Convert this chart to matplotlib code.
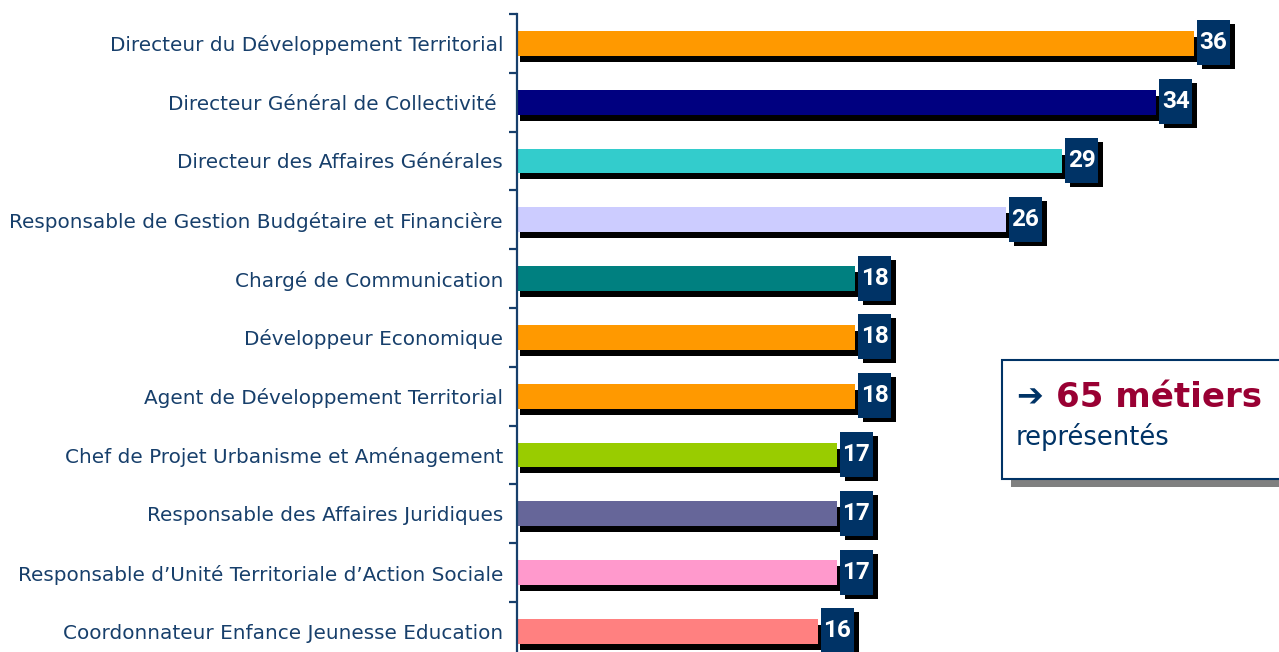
import matplotlib
matplotlib.use("Agg")
import matplotlib.pyplot as plt
import numpy as np
from matplotlib.patches import Rectangle
from matplotlib.transforms import Affine2D, ScaledTranslation, offset_copy

categories = [
    "Directeur du Développement Territorial",
    "Directeur Général de Collectivité ",
    "Directeur des Affaires Générales",
    "Responsable de Gestion Budgétaire et Financière",
    "Chargé de Communication",
    "Développeur Economique",
    "Agent de Développement Territorial",
    "Chef de Projet Urbanisme et Aménagement",
    "Responsable des Affaires Juridiques",
    "Responsable d\u2019Unité Territoriale d\u2019Action Sociale",
    "Coordonnateur Enfance Jeunesse Education",
]
values = [36, 34, 29, 26, 18, 18, 18, 17, 17, 17, 16]
colors = ["#FF9900", "#000080", "#33CCCC", "#CCCCFF", "#008080", "#FF9900",
          "#FF9900", "#99CC00", "#666699", "#FF99CC", "#FF8080"]

W, H = 1279, 652
LABEL_COLOR = "#173F6B"
BOX_COLOR = "#003366"

fig = plt.figure(figsize=(W / 100, H / 100), dpi=100)
step = 58.8
ax_h = step * len(categories)
ax = fig.add_axes([517 / W, (H - 14 - ax_h) / H, 752 / W, ax_h / H])
y = np.arange(len(categories))

shadow_tr = offset_copy(ax.transData, fig=fig, x=3, y=-6, units='dots')
ax.barh(y, values, height=0.425, color='black', transform=shadow_tr, zorder=1)
ax.barh(y, values, height=0.425, color=colors, zorder=2)

for yi, v in zip(y, values):
    tr = Affine2D() + ScaledTranslation(v, yi, ax.transData)
    ax.add_patch(Rectangle((3 + 5, -22 - 4), 33, 45, facecolor='black',
                           edgecolor='none', transform=tr, zorder=3))
    ax.add_patch(Rectangle((3, -22), 33, 45, facecolor=BOX_COLOR,
                           edgecolor='none', transform=tr, zorder=4))
    ax.text(v, yi, str(v), transform=offset_copy(ax.transData, fig=fig, x=19.5, y=0.5, units='dots'),
            ha='center', va='center', color='white', fontsize=17.5,
            fontweight='bold', family='Roboto', zorder=5)

ax.set_xlim(0, 40)
ax.set_ylim(len(categories) - 0.5, -0.5)
ax.set_yticks(y)
ax.set_yticklabels(categories, fontsize=14.4, color=LABEL_COLOR, family='DejaVu Sans')
for lbl in ax.get_yticklabels():
    lbl.set_transform(lbl.get_transform() + Affine2D().translate(0, 3))
ax.set_yticks(np.arange(-0.5, len(categories), 1), minor=True)
ax.tick_params(axis='y', which='major', length=0, pad=10)
ax.tick_params(axis='y', which='minor', length=6, width=1.6, color=LABEL_COLOR)
ax.set_xticks([])
for s in ['top', 'right', 'bottom']:
    ax.spines[s].set_visible(False)
ax.spines['left'].set_color(LABEL_COLOR)
ax.spines['left'].set_linewidth(1.6)
ax.patch.set_visible(False)

# Callout box
ident = matplotlib.transforms.IdentityTransform()
fig.add_artist(Rectangle((1011, H - 487), 300, 119, facecolor='#808080',
                         edgecolor='none', transform=ident, zorder=5))
fig.add_artist(Rectangle((1002, H - 479), 300, 119, facecolor='white',
                         edgecolor=BOX_COLOR, linewidth=1.5, transform=ident, zorder=6))
fig.text(1016 / W, (H - 398) / H, "\u2794", ha='left', va='center', color=BOX_COLOR,
         fontsize=23, fontweight='bold', family='DejaVu Sans', zorder=7)
fig.text(1056 / W, (H - 407) / H, "65 métiers", ha='left', va='baseline',
         color='#990033', fontsize=24.5, fontweight='bold', family='DejaVu Sans', zorder=7)
fig.text(1016 / W, (H - 445) / H, "représentés", ha='left', va='baseline',
         color=BOX_COLOR, fontsize=18.5, family='DejaVu Sans', zorder=7)

fig.savefig("out.png", dpi=100)
